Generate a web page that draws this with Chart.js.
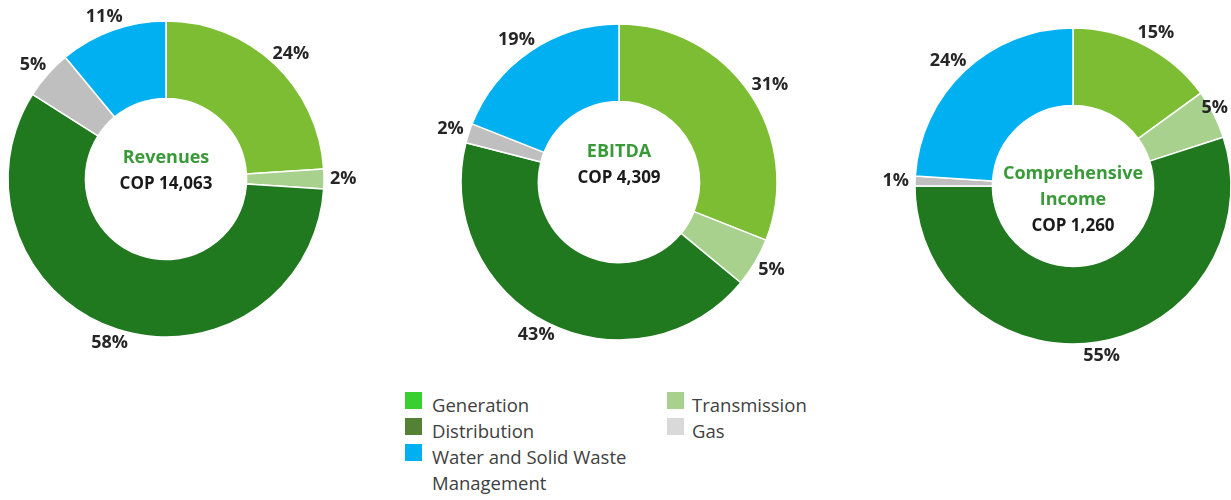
<!DOCTYPE html>
<html>
<head>
<meta charset="utf-8">
<script src="https://cdn.jsdelivr.net/npm/chart.js@4.4.1/dist/chart.umd.min.js"></script>
<style>
  html, body { margin: 0; padding: 0; background: #ffffff; }
  body { width: 1231px; height: 500px; position: relative; overflow: hidden; font-family: 'Open Sans', sans-serif; }
  .pie { position: absolute; width: 400px; height: 400px; }
  .legend { position: absolute; left: 405px; top: 390px; font-size: 18.5px; color: #404040; }
  .legend .item { position: absolute; width: 260px; line-height: 26px; }
  .legend .sw { position: absolute; left: 0; top: 2px; width: 17px; height: 17px; }
  .legend .txt { position: absolute; left: 27px; top: 2px; width: 215px; white-space: normal; }
</style>
</head>
<body>
<canvas id="pie0" class="pie" width="400" height="400" style="left:-34px;top:-21px"></canvas>
<canvas id="pie1" class="pie" width="400" height="400" style="left:419px;top:-18px"></canvas>
<canvas id="pie2" class="pie" width="400" height="400" style="left:873px;top:-14px"></canvas>
<div class="legend" id="legend"></div>
<script>
// ===== DATA =====
const segments = ['Generation', 'Transmission', 'Distribution', 'Gas', 'Water and Solid Waste Management'];
const revenuesShare = [24, 2, 58, 5, 11];
const ebitdaShare = [31, 5, 43, 2, 19];
const incomeShare = [15, 5, 55, 1, 24];
const chartTitles = [['Revenues'], ['EBITDA'], ['Comprehensive', 'Income']];
const chartTotals = ['COP 14,063', 'COP 4,309', 'COP 1,260'];

// slice colours vs. legend swatch colours (they differ in the source)
const sliceColors = ['#7dbd33', '#a9d18e', '#20781f', '#bfbfbf', '#00b0f0'];
const legendColors = ['#38cf2f', '#a9d18e', '#548235', '#d9d9d9', '#00b0f0'];
const legendOrder = [0, 2, 4, 1, 3];

const PAGE_W = 1231;

// ===== OUTSIDE-END PERCENT LABELS + CENTER TEXT =====
const pieText = {
  id: 'pieText',
  afterDatasetsDraw(chart, args, opts) {
    const ctx = chart.ctx;
    const meta = chart.getDatasetMeta(0);
    const data = chart.data.datasets[0].data;
    const rightLimit = PAGE_W - chart.canvas.offsetLeft;
    ctx.save();
    ctx.font = 'bold 18px "Open Sans"';
    ctx.fillStyle = '#262626';
    ctx.textAlign = 'center';
    ctx.textBaseline = 'middle';
    meta.data.forEach((arc, i) => {
      const p = arc.getProps(['x', 'y', 'startAngle', 'endAngle', 'outerRadius'], true);
      const mid = (p.startAngle + p.endAngle) / 2;
      const dx = Math.cos(mid), dy = Math.sin(mid);
      const txt = data[i] + '%';
      const w = ctx.measureText(txt).width;
      const r = p.outerRadius + 6;
      let x = p.x + r * dx + dx * w / 2;
      const y = p.y + r * dy + dy * 8;
      // keep labels inside the visible page, like the source does
      x = Math.min(x, rightLimit - w / 2 - 3);
      ctx.fillText(txt, x, y);
    });

    const cx = meta.data[0].x, cy = meta.data[0].y;
    const lines = opts.title.length + 1;
    let y = cy + opts.shift - (lines - 1) * 13;
    ctx.font = 'bold 18px "Open Sans"';
    ctx.fillStyle = '#3a9a3a';
    opts.title.forEach(t => { ctx.fillText(t, cx, y); y += 26; });
    ctx.font = 'bold 17px "Open Sans"';
    ctx.fillStyle = '#1a1a1a';
    ctx.fillText(opts.total, cx, y);
    ctx.restore();
  }
};

function makePie(id, values, idx, shift) {
  return new Chart(document.getElementById(id), {
    type: 'doughnut',
    data: {
      labels: segments,
      datasets: [{
        data: values,
        backgroundColor: sliceColors,
        borderColor: '#ffffff',
        borderWidth: 1.5
      }]
    },
    options: {
      responsive: false,
      animation: false,
      radius: 158,
      cutout: '51%',
      layout: { padding: 0 },
      plugins: {
        legend: { display: false },
        tooltip: { enabled: false },
        pieText: { title: chartTitles[idx], total: chartTotals[idx], shift: shift }
      }
    },
    plugins: [pieText]
  });
}

makePie('pie0', revenuesShare, 0, -8);
makePie('pie1', ebitdaShare, 1, -17);
makePie('pie2', incomeShare, 2, 14);

// ===== LEGEND =====
const legend = document.getElementById('legend');
legend.innerHTML = legendOrder.map((k, n) => {
  const col = n < 3 ? 0 : 1;
  const row = n < 3 ? n : n - 3;
  return `<div class="item" style="left:${col * 262}px;top:${row * 26}px">
    <div class="sw" style="background:${legendColors[k]}"></div>
    <div class="txt" style="left:${col ? 25 : 27}px">${segments[k]}</div>
  </div>`;
}).join('');
</script>
</body>
</html>
